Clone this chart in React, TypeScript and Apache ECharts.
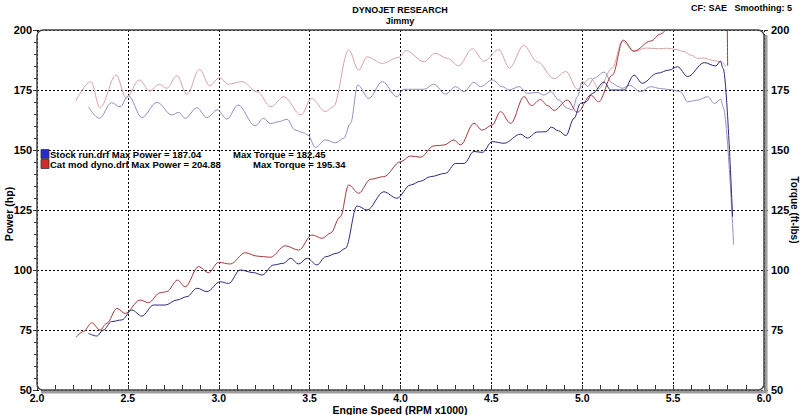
import React, { useEffect, useRef } from "react";
import * as echarts from "echarts";

// ---- Data (rpm x1000, value) ----
const stockPower: [number, number][] = [
  [2.283, 73.6], [2.329, 72.5], [2.365, 75], [2.41, 78.5], [2.467, 79.2], [2.522, 83.3], [2.577, 80.8],
  [2.641, 85.4], [2.705, 85.4], [2.77, 87.5], [2.825, 88.9], [2.88, 92.4], [2.935, 91], [3.008, 95.1],
  [3.054, 94.4], [3.118, 100], [3.192, 98.9], [3.238, 97.9], [3.302, 102.1], [3.357, 102.8], [3.394, 104.9],
  [3.44, 102.5], [3.486, 104.9], [3.541, 102.1], [3.587, 105.5], [3.651, 107], [3.697, 109], [3.761, 126.7],
  [3.816, 125], [3.908, 132.6], [3.98, 129.9], [4.055, 135.4], [4.11, 137], [4.165, 138.9], [4.248, 140.3],
  [4.303, 144.4], [4.35, 144.4], [4.404, 149.4], [4.45, 149], [4.505, 153.5], [4.57, 152.8], [4.66, 156.6],
  [4.698, 155], [4.753, 157.5], [4.8, 157.6], [4.83, 159.5], [4.87, 158], [4.91, 156], [4.955, 163.2],
  [4.99, 169.4], [5.02, 170], [5.056, 173.6], [5.12, 178.3], [5.157, 175], [5.23, 175], [5.285, 181.2],
  [5.33, 177.8], [5.414, 182], [5.478, 183.3], [5.524, 184.7], [5.58, 180.6], [5.671, 186.4], [5.735, 185],
  [5.76, 187.04], [5.775, 184], [5.827, 122.2],
];

const stockTorque: [number, number][] = [
  [2.283, 168], [2.343, 163.2], [2.41, 169.7], [2.457, 168], [2.503, 172.6], [2.577, 163.5], [2.66, 169.9],
  [2.742, 164.6], [2.78, 165.7], [2.815, 163.2], [2.88, 167.6], [2.935, 163.5], [2.993, 166.7], [3.045, 162.9],
  [3.106, 168.75], [3.2, 160.1], [3.247, 163.2], [3.284, 161], [3.33, 161.8], [3.376, 162.8], [3.42, 158.3],
  [3.467, 157.2], [3.49, 156.25], [3.532, 151.1], [3.587, 154.2], [3.642, 153], [3.688, 154.9], [3.725, 161.1],
  [3.765, 177.1], [3.825, 171.5], [3.9, 178.5], [3.98, 172.2], [4.018, 175.3], [4.07, 175.3], [4.13, 175.3],
  [4.183, 177.4], [4.248, 173.3], [4.303, 176.4], [4.35, 174.3], [4.404, 178.2], [4.44, 176.4], [4.505, 179.2],
  [4.56, 176.4], [4.597, 175], [4.652, 176.4], [4.698, 173.6], [4.75, 174], [4.79, 172.9], [4.826, 174.3],
  [4.872, 170.8], [4.918, 167.4], [4.946, 166.7], [4.973, 172.2], [5.0, 178.5], [5.03, 176.5], [5.065, 179.9],
  [5.12, 182.45], [5.166, 177.8], [5.2, 176.4], [5.22, 175.7], [5.26, 177], [5.32, 174.3], [5.377, 176.4],
  [5.43, 175.6], [5.5, 175], [5.54, 174.3], [5.58, 170.1], [5.635, 170.8], [5.69, 172.2], [5.727, 169.4],
  [5.763, 171.1], [5.775, 168], [5.833, 110.4],
];

const catPower: [number, number][] = [
  [2.215, 72], [2.255, 74.3], [2.301, 78], [2.347, 75], [2.384, 77.8], [2.44, 84], [2.485, 81.9], [2.567, 87.5],
  [2.613, 86.4], [2.678, 90.5], [2.714, 91], [2.773, 95.8], [2.815, 93], [2.889, 101.4], [2.944, 98.9],
  [2.999, 103.2], [3.063, 102.5], [3.146, 107.2], [3.21, 105.8], [3.284, 105.3], [3.366, 110.1], [3.44, 108.3],
  [3.513, 114.6], [3.569, 113.2], [3.614, 115.3], [3.669, 122.2], [3.715, 135.4], [3.77, 132], [3.835, 137.8],
  [3.908, 138.9], [4.0, 145.1], [4.055, 147.5], [4.11, 147], [4.183, 151.7], [4.24, 152.1], [4.294, 154.2],
  [4.33, 152.1], [4.404, 161.1], [4.45, 158.3], [4.505, 160.4], [4.55, 166], [4.606, 161.1], [4.68, 172.2],
  [4.72, 168.5], [4.77, 171], [4.81, 168.5], [4.845, 166.5], [4.918, 170.8], [4.973, 165.7], [5.047, 172.9],
  [5.09, 170.1], [5.166, 181.25], [5.225, 195.8], [5.285, 191.2], [5.377, 195.4], [5.43, 198.3], [5.47, 200.4],
  [5.52, 201.6], [5.56, 202.2], [5.6, 202.1], [5.635, 201.9], [5.67, 203.3], [5.71, 203.8], [5.745, 204.4],
  [5.775, 204.88], [5.797, 204], [5.8, 185],
];

const catTorque: [number, number][] = [
  [2.213, 170.4], [2.296, 178.5], [2.347, 167.6], [2.435, 181.25], [2.49, 171.8], [2.564, 179.2], [2.619, 174.6],
  [2.674, 177.4], [2.714, 175.7], [2.77, 181], [2.825, 173.2], [2.894, 183.6], [2.95, 176.8], [3.004, 180.1],
  [3.054, 177.4], [3.128, 178.5], [3.21, 174.3], [3.288, 168], [3.357, 172.2], [3.453, 164.6], [3.51, 171.5],
  [3.587, 166], [3.63, 168], [3.715, 191.7], [3.77, 183.3], [3.816, 188.8], [3.9, 186.1], [3.99, 188.6],
  [4.03, 191.4], [4.13, 186.8], [4.19, 190.3], [4.257, 188.2], [4.32, 185.1], [4.395, 192.2], [4.459, 187],
  [4.54, 191.8], [4.6, 184.2], [4.678, 193.6], [4.752, 186.8], [4.845, 179.7], [4.91, 182.7], [4.973, 175.3],
  [5.047, 179.9], [5.09, 175.5], [5.166, 184.3], [5.22, 195.34], [5.285, 191], [5.35, 192.5], [5.42, 192.2],
  [5.47, 192.4], [5.52, 191.8], [5.56, 191], [5.6, 189.5], [5.635, 188.2], [5.67, 188.3], [5.71, 187.5],
  [5.745, 187], [5.765, 186.7], [5.79, 184.7],
];

const runNames = ["Stock run.drf", "Cat mod dyno.drf"];
const maxPower = [187.04, 204.88];
const maxTorque = [182.45, 195.34];

const titleMain = "DYNOJET RESEARCH";
const titleSub = "Jimmy";
const cfText = "CF: SAE";
const smoothText = "Smoothing: 5";
const xAxisTitle = "Engine Speed (RPM x1000)";
const leftAxisTitle = "Power (hp)";
const rightAxisTitle = "Torque (ft-lbs)";

const COLORS = {
  stockPower: "#2c2c7c",
  stockTorque: "#9090c4",
  catPower: "#a23a3a",
  catTorque: "#d6a4a4",
};

const FONT = "'Liberation Sans', Arial, sans-serif";

export default function App() {
  const ref = useRef<HTMLDivElement>(null);

  useEffect(() => {
    document.body.style.margin = "0";
    const chart = echarts.init(ref.current!, undefined, { renderer: "svg" });

    const labelStyle = { color: "#000", fontWeight: "bold" as const, fontSize: 11, fontFamily: FONT };
    const splitLine = { show: true, lineStyle: { color: "#000", type: [2, 2] as any, width: 1 } };

    const lineSeries = (name: string, data: [number, number][], color: string, yAxisIndex: number, z: number) => ({
      name,
      type: "line",
      data,
      yAxisIndex,
      showSymbol: false,
      symbol: "none",
      smooth: 0.35,
      smoothMonotone: "x",
      clip: true,
      z,
      lineStyle: { color, width: 1 },
      itemStyle: { color },
    });

    const legendY = [154, 164];
    const legendColors = ["#2a2ad0", "#d02a2a"];
    const txt = (text: string, x: number, y: number, align: string, size: number, rotation = 0) => ({
      type: "text", x, y, rotation, z: 110,
      style: { text, textAlign: align, textVerticalAlign: "middle", font: `bold ${size}px ${FONT}`, fill: "#000" },
    });

    const graphic: any[] = [
      txt(titleMain, 400, 10, "center", 9),
      txt(titleSub, 400, 21, "center", 9),
      txt(cfText, 727, 8, "right", 9),
      txt(smoothText, 792, 8, "right", 9),
      txt(xAxisTitle, 400, 409.5, "center", 10.5),
      txt(leftAxisTitle, 9, 214, "center", 10.5, Math.PI / 2),
      txt(rightAxisTitle, 794.5, 210, "center", 10, -Math.PI / 2),
      // frame shadow
      { type: "polyline", z: 90, shape: { points: [[766, 35], [766, 392], [41, 392]] }, style: { stroke: "#9c9c9c", lineWidth: 3, fill: "none" } },
      // frame
      { type: "rect", z: 100, shape: { x: 37, y: 30, width: 727, height: 360, r: 6 }, style: { fill: "none", stroke: "#474747", lineWidth: 1.5 } },
    ];

    runNames.forEach((n, i) => {
      graphic.push({
        type: "rect", z: 110,
        shape: { x: 41, y: legendY[i] - 4.5, width: 8, height: 9 },
        style: { fill: legendColors[i], stroke: "#333", lineWidth: 0.8 },
      });
      graphic.push(txt(`${n} Max Power = ${maxPower[i].toFixed(2)}`, 50, legendY[i], "left", 9.5));
      graphic.push(txt(`Max Torque = ${maxTorque[i].toFixed(2)}`, i === 0 ? 233 : 253, legendY[i], "left", 9.5));
    });

    chart.setOption({
      animation: false,
      backgroundColor: "#fff",
      textStyle: { fontFamily: FONT },
      grid: { left: 37, right: 36, top: 30, bottom: 25, containLabel: false, outerBoundsMode: "none" },
      xAxis: {
        type: "value",
        min: 2,
        max: 6,
        interval: 0.5,
        axisLine: { show: false },
        axisTick: { show: true, inside: true, length: 5, lineStyle: { color: "#333" } },
        minorTick: { show: true, splitNumber: 5, length: 5, lineStyle: { color: "#333" } },
        splitLine,
        axisLabel: { ...labelStyle, fontSize: 10.5, margin: 2, formatter: (v: number) => v.toFixed(1) },
      },
      yAxis: [
        {
          type: "value",
          position: "left",
          min: 50,
          max: 200,
          interval: 25,
          axisLine: { show: false },
          axisTick: { show: true, length: 4, lineStyle: { color: "#333" } },
          minorTick: { show: true, splitNumber: 5, length: 3, lineStyle: { color: "#333" } },
          splitLine,
          axisLabel: { ...labelStyle, margin: 5 },
        },
        {
          type: "value",
          position: "right",
          min: 50,
          max: 200,
          interval: 25,
          axisLine: { show: false },
          axisTick: { show: true, length: 4, lineStyle: { color: "#333" } },
          minorTick: { show: true, splitNumber: 5, length: 3, lineStyle: { color: "#333" } },
          splitLine: { show: false },
          axisLabel: { ...labelStyle, margin: 7 },
        },
      ],
      series: [
        lineSeries("Cat mod dyno.drf Torque", catTorque, COLORS.catTorque, 1, 2),
        lineSeries("Stock run.drf Torque", stockTorque, COLORS.stockTorque, 1, 3),
        lineSeries("Cat mod dyno.drf Power", catPower, COLORS.catPower, 0, 4),
        lineSeries("Stock run.drf Power", stockPower, COLORS.stockPower, 0, 5),
      ],
      graphic,
    });

    return () => chart.dispose();
  }, []);

  return <div ref={ref} style={{ position: "fixed", left: 0, top: 0, width: 800, height: 415 }} />;
}
